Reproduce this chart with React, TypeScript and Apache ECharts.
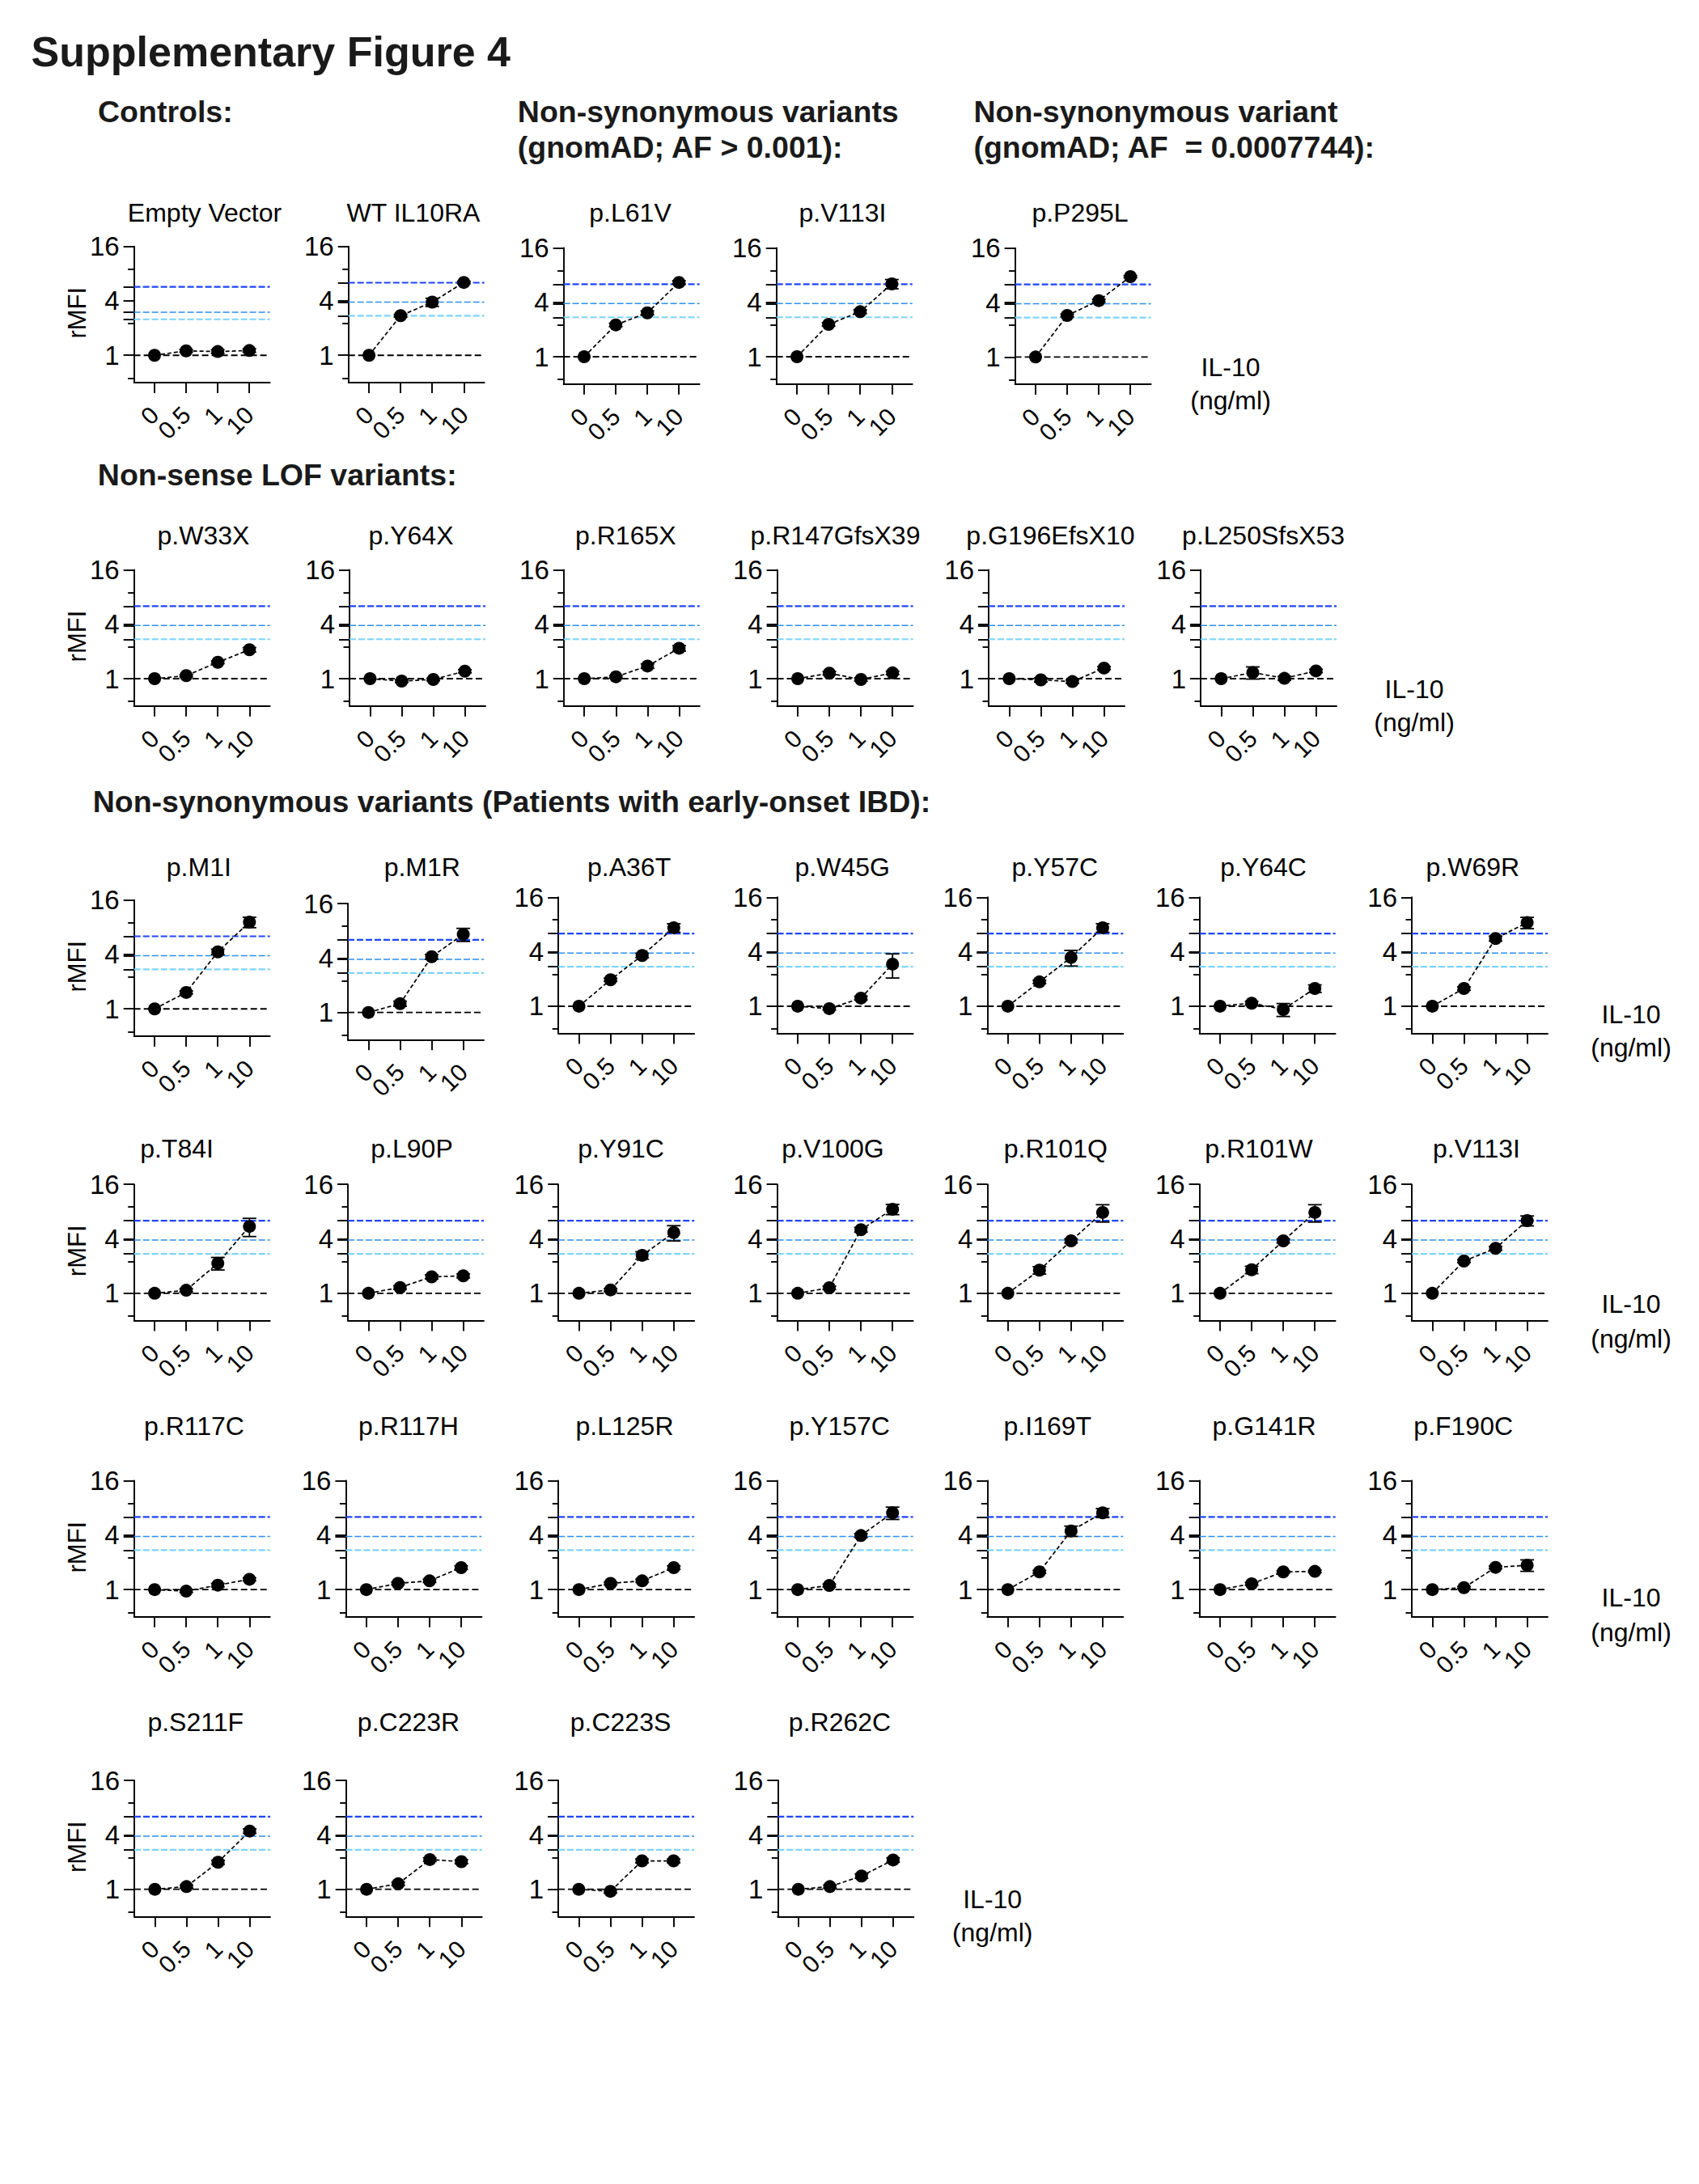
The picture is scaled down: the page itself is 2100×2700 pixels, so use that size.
import React, { useEffect, useRef } from 'react';
import * as echarts from 'echarts';

// ---------- data ----------
const DOSES = ['0', '0.5', '1', '10'];
const Y_LABELS = [1, 4, 16];
const MINOR_TICKS = [9, 2.25, 0.56];
const REF_LINES = [6.35, 3.87, 2.73]; // WT IL10RA at 10, 1, 0.5 ng/ml
const REF_LINES_EMPTY = [5.7, 3.0, 2.5];

const ROW1_NAMES = ['Empty Vector', 'WT IL10RA', 'p.L61V', 'p.V113I', 'p.P295L'];
const ROW1_MEANS = [
  [1, 1.12, 1.1, 1.13],
  [1, 2.74, 3.87, 6.39],
  [1, 2.25, 3.06, 6.63],
  [1, 2.28, 3.15, 6.39],
  [1, 2.88, 4.2, 7.73],
];
const ROW1_ERRORS = [
  [0, 0.04, 0.05, 0.05],
  [0, 0.1, 0.4, 0.2],
  [0, 0.1, 0.15, 0.3],
  [0, 0.1, 0.15, 0.75],
  [0, 0.1, 0.15, 0.2],
];

const ROW2_NAMES = ['p.W33X', 'p.Y64X', 'p.R165X', 'p.R147GfsX39', 'p.G196EfsX10', 'p.L250SfsX53'];
const ROW2_MEANS = [
  [1, 1.08, 1.52, 2.09],
  [1, 0.94, 0.98, 1.21],
  [1, 1.05, 1.38, 2.17],
  [1, 1.15, 0.98, 1.16],
  [1, 0.97, 0.93, 1.31],
  [1, 1.17, 1.01, 1.22],
];
const ROW2_ERRORS = [
  [0, 0.03, 0.05, 0.12],
  [0, 0.03, 0.03, 0.05],
  [0, 0.03, 0.08, 0.15],
  [0, 0.05, 0.04, 0.05],
  [0, 0.05, 0.04, 0.05],
  [0, 0.18, 0.05, 0.05],
];

const ROW3_NAMES = ['p.M1I', 'p.M1R', 'p.A36T', 'p.W45G', 'p.Y57C', 'p.Y64C', 'p.W69R'];
const ROW3_MEANS = [
  [1, 1.52, 4.27, 9.1],
  [1, 1.25, 4.13, 7.3],
  [1, 1.96, 3.64, 7.37],
  [1, 0.94, 1.23, 2.92],
  [1, 1.86, 3.46, 7.37],
  [1, 1.08, 0.92, 1.57],
  [1, 1.57, 5.6, 8.4],
];
const ROW3_ERRORS = [
  [0, 0.06, 0.3, 1.2],
  [0, 0.08, 0.25, 1.2],
  [0, 0.08, 0.2, 0.8],
  [0, 0.03, 0.06, 0.87],
  [0, 0.08, 0.68, 0.8],
  [0, 0.05, 0.15, 0.15],
  [0, 0.07, 0.35, 1.2],
];

const ROW4_NAMES = ['p.T84I', 'p.L90P', 'p.Y91C', 'p.V100G', 'p.R101Q', 'p.R101W', 'p.V113I'];
const ROW4_MEANS = [
  [1, 1.08, 2.15, 5.49],
  [1, 1.16, 1.52, 1.56],
  [1, 1.09, 2.63, 4.69],
  [1, 1.15, 5.05, 8.5],
  [1, 1.8, 3.8, 7.83],
  [1, 1.82, 3.8, 7.83],
  [1, 2.27, 3.14, 6.36],
];
const ROW4_ERRORS = [
  [0, 0.04, 0.34, 1.25],
  [0, 0.05, 0.08, 0.08],
  [0, 0.04, 0.25, 0.9],
  [0, 0.05, 0.3, 1.1],
  [0, 0.17, 0.2, 1.7],
  [0, 0.17, 0.2, 1.7],
  [0, 0.08, 0.15, 0.8],
];

const ROW5_NAMES = ['p.R117C', 'p.R117H', 'p.L125R', 'p.Y157C', 'p.I169T', 'p.G141R', 'p.F190C'];
const ROW5_MEANS = [
  [1, 0.96, 1.12, 1.3],
  [1, 1.17, 1.25, 1.75],
  [1, 1.17, 1.25, 1.75],
  [1, 1.11, 3.96, 7.06],
  [1, 1.57, 4.45, 7.06],
  [1, 1.16, 1.57, 1.59],
  [1, 1.05, 1.76, 1.86],
];
const ROW5_ERRORS = [
  [0, 0.03, 0.05, 0.05],
  [0, 0.04, 0.05, 0.08],
  [0, 0.04, 0.05, 0.08],
  [0, 0.04, 0.2, 1.1],
  [0, 0.06, 0.58, 0.8],
  [0, 0.04, 0.05, 0.05],
  [0, 0.03, 0.06, 0.27],
];

const ROW6_NAMES = ['p.S211F', 'p.C223R', 'p.C223S', 'p.R262C'];
const ROW6_MEANS = [
  [1, 1.07, 1.99, 4.4],
  [1, 1.15, 2.13, 2.02],
  [1, 0.95, 2.06, 2.06],
  [1, 1.07, 1.4, 2.11],
];
const ROW6_ERRORS = [
  [0, 0.04, 0.1, 0.25],
  [0, 0.05, 0.1, 0.1],
  [0, 0.04, 0.1, 0.1],
  [0, 0.04, 0.08, 0.12],
];

// ---------- layout ----------
const FONT = "'Liberation Sans', Arial, Helvetica, sans-serif";
const PLOT_W = 168;
const PLOT_H = 168.3;

const ROWS: any[] = [
  {
    names: ROW1_NAMES, means: ROW1_MEANS, errors: ROW1_ERRORS,
    xs: [165.6, 430.7, 696.6, 959.7, 1254.6],
    tops: [304.6, 304.6, 306.4, 306.4, 306.7],
    titleXs: [253, 511, 779, 1041.5, 1335], titleY: 263,
    il: [1521, 454, 495],
  },
  {
    names: ROW2_NAMES, means: ROW2_MEANS, errors: ROW2_ERRORS,
    xs: [165.7, 432, 696.8, 960.6, 1222, 1484],
    tops: [704.4, 704.4, 704.4, 704.4, 704.4, 704.4],
    titleXs: [251.4, 508, 773.3, 1032.5, 1298.4, 1561.6], titleY: 661.5,
    il: [1748, 852, 893],
  },
  {
    names: ROW3_NAMES, means: ROW3_MEANS, errors: ROW3_ERRORS,
    xs: [165.7, 430, 690.2, 960.6, 1220.3, 1482.6, 1745],
    tops: [1112.6, 1117, 1109.3, 1109.3, 1109.3, 1109.3, 1109.3],
    titleXs: [245.8, 521.8, 777.6, 1041.2, 1303.8, 1561.6, 1820.3], titleY: 1072,
    il: [2016, 1254, 1295],
  },
  {
    names: ROW4_NAMES, means: ROW4_MEANS, errors: ROW4_ERRORS,
    xs: [165.7, 430, 690.2, 960.6, 1220.3, 1482.6, 1745],
    tops: [1464.2, 1464.2, 1464.2, 1464.2, 1464.2, 1464.2, 1464.2],
    titleXs: [218.5, 509, 767.5, 1029.5, 1304.8, 1556, 1825], titleY: 1419.5,
    il: [2016, 1612, 1655],
  },
  {
    names: ROW5_NAMES, means: ROW5_MEANS, errors: ROW5_ERRORS,
    xs: [165.7, 427.4, 690.2, 960.6, 1220.3, 1482.6, 1745],
    tops: [1830.5, 1830.5, 1830.5, 1830.5, 1830.5, 1830.5, 1830.5],
    titleXs: [240, 505, 772, 1037.7, 1294.8, 1562.5, 1808.7], titleY: 1762.7,
    il: [2016, 1975, 2018],
  },
  {
    names: ROW6_NAMES, means: ROW6_MEANS, errors: ROW6_ERRORS,
    xs: [166, 427.7, 690, 961.3],
    tops: [2201, 2201, 2201, 2201],
    titleXs: [241.7, 505, 767, 1038], titleY: 2129,
    il: [1226.7, 2348, 2389],
  },
];

const HEADINGS: any[] = [
  { text: 'Supplementary Figure 4', x: 38.6, y: 64, size: 52 },
  { text: 'Controls:', x: 121, y: 137.5, size: 37.5 },
  { text: 'Non-synonymous variants', x: 639.8, y: 137.5, size: 37.5 },
  { text: '(gnomAD; AF > 0.001):', x: 639.8, y: 182, size: 37.5 },
  { text: 'Non-synonymous variant', x: 1203.4, y: 137.5, size: 37.5 },
  { text: '(gnomAD; AF \u00a0= 0.0007744):', x: 1203.4, y: 181.5, size: 37.5 },
  { text: 'Non-sense LOF variants:', x: 120.8, y: 587, size: 37.5 },
  { text: 'Non-synonymous variants (Patients with early-onset IBD):', x: 114.7, y: 990.6, size: 37.5 },
];

const REF_STYLES = [
  { color: '#1f45ff', width: 2.2, dash: [8, 3] },
  { color: '#2b8ff0', width: 1.5, dash: [8, 3] },
  { color: '#7cd4fa', width: 2.2, dash: [8, 3] },
  { color: '#000000', width: 1.9, dash: [8, 4] },
];

// x labels are split over two stacked axes so that neighbouring rotated labels never compete
const X_LABEL_SETS = [[0, 2], [1, 3]];

function buildOption() {
  const grid: any[] = [];
  const xAxis: any[] = [];
  const yAxis: any[] = [];
  const series: any[] = [];
  const elements: any[] = [];
  const axisStyle = { color: '#000', width: 1.9 };

  HEADINGS.forEach((h) => {
    elements.push({
      type: 'text', x: h.x, y: h.y, silent: true,
      style: { text: h.text, fontSize: h.size, fontWeight: 'bold', fontFamily: FONT, fill: '#1a1a1a', align: 'left', verticalAlign: 'middle' },
    });
  });

  let gi = 0;
  ROWS.forEach((row, ri) => {
    row.names.forEach((name: string, ci: number) => {
      const left = row.xs[ci];
      const top = row.tops[ci];
      const refs = ri === 0 && ci === 0 ? REF_LINES_EMPTY : REF_LINES;
      grid.push({ left, top, width: PLOT_W, height: PLOT_H, containLabel: false, outerBoundsMode: 'none' });
      X_LABEL_SETS.forEach((labelSet, k) => {
        xAxis.push({
          gridIndex: gi, type: 'value', min: -0.65, max: 3.65, position: 'bottom', offset: 0,
          axisLine: { show: k === 0, onZero: false, lineStyle: axisStyle },
          axisTick: { show: k === 0, customValues: [0, 1, 2, 3], length: 13, lineStyle: axisStyle },
          axisLabel: {
            customValues: labelSet, formatter: (v: number) => DOSES[Math.round(v)],
            rotate: 45, fontSize: 30, fontFamily: FONT, color: '#000', margin: 35,
            showMinLabel: true, showMaxLabel: true, hideOverlap: false,
          },
          splitLine: { show: false },
        });
      });
      yAxis.push({
        gridIndex: gi, type: 'log', logBase: 2, min: 0.5, max: 16, position: 'left', offset: 0,
        axisLine: { show: true, onZero: false, lineStyle: axisStyle },
        axisTick: { show: true, customValues: [...Y_LABELS, ...refs], length: 13, lineStyle: axisStyle },
        axisLabel: {
          customValues: Y_LABELS, fontSize: 33, fontFamily: FONT, color: '#000', margin: 18,
          showMinLabel: true, showMaxLabel: true, hideOverlap: false,
        },
        splitLine: { show: false },
      });
      yAxis.push({
        gridIndex: gi, type: 'log', logBase: 2, min: 0.5, max: 16, position: 'left', offset: 0,
        axisLine: { show: false, onZero: false },
        axisTick: { show: true, customValues: MINOR_TICKS, length: 7.5, lineStyle: axisStyle },
        axisLabel: { show: false },
        splitLine: { show: false },
      });
      const xi = gi * 2;
      const yi = gi * 2;
      // reference lines
      series.push({
        type: 'custom', xAxisIndex: xi, yAxisIndex: yi, z: 1, silent: true,
        data: [[0, refs[0]], [1, refs[1]], [2, refs[2]], [3, 1]],
        encode: { x: 0, y: 1 },
        renderItem: (params: any, api: any) => {
          const k = api.value(0);
          const v = api.value(1);
          const cs = params.coordSys;
          const y = api.coord([0, v])[1];
          const st = REF_STYLES[k];
          return {
            type: 'line',
            shape: { x1: cs.x, y1: y, x2: cs.x + cs.width, y2: y },
            style: { stroke: st.color, lineWidth: st.width, lineDash: st.dash },
          };
        },
      });
      // error bars
      const means: number[] = row.means[ci];
      const errs: number[] = row.errors[ci];
      const errData = means.map((m, j) => [j, m - errs[j], m + errs[j]]).filter((d, j) => errs[j] > 0);
      series.push({
        type: 'custom', xAxisIndex: xi, yAxisIndex: yi, z: 2, silent: true,
        data: errData, encode: { x: 0, y: [1, 2] },
        renderItem: (params: any, api: any) => {
          const x = api.value(0);
          const lo = api.value(1);
          const hi = api.value(2);
          const pHi = api.coord([x, hi]);
          const pLo = api.coord([x, lo]);
          const hw = 8.5;
          const st = { stroke: '#000', lineWidth: 1.8 };
          return {
            type: 'group',
            children: [
              { type: 'line', shape: { x1: pHi[0], y1: pHi[1], x2: pLo[0], y2: pLo[1] }, style: st },
              { type: 'line', shape: { x1: pHi[0] - hw, y1: pHi[1], x2: pHi[0] + hw, y2: pHi[1] }, style: st },
              { type: 'line', shape: { x1: pLo[0] - hw, y1: pLo[1], x2: pLo[0] + hw, y2: pLo[1] }, style: st },
            ],
          };
        },
      });
      // means
      series.push({
        type: 'line', xAxisIndex: xi, yAxisIndex: yi, z: 3, silent: true,
        data: means.map((m, j) => [j, m]),
        symbol: 'circle', symbolSize: 16, showSymbol: true,
        itemStyle: { color: '#000' },
        lineStyle: { color: '#000', width: 1.7, type: [5, 3] },
      });
      // panel title
      elements.push({
        type: 'text', x: row.titleXs[ci], y: row.titleY, silent: true,
        style: { text: name, fontSize: 32, fontFamily: FONT, fill: '#000', align: 'center', verticalAlign: 'middle' },
      });
      gi++;
    });
    // rMFI label
    const top0 = row.tops[0];
    elements.push({
      type: 'text', x: 95.5, y: top0 + PLOT_H / 2 - 2, rotation: Math.PI / 2, silent: true,
      style: { text: 'rMFI', fontSize: 31, fontFamily: FONT, fill: '#000', align: 'center', verticalAlign: 'middle' },
    });
    // IL-10 label
    elements.push({
      type: 'text', x: row.il[0], y: row.il[1], silent: true,
      style: { text: 'IL-10', fontSize: 32, fontFamily: FONT, fill: '#000', align: 'center', verticalAlign: 'middle' },
    });
    elements.push({
      type: 'text', x: row.il[0], y: row.il[2], silent: true,
      style: { text: '(ng/ml)', fontSize: 32, fontFamily: FONT, fill: '#000', align: 'center', verticalAlign: 'middle' },
    });
  });

  return {
    animation: false,
    backgroundColor: '#ffffff',
    textStyle: { fontFamily: FONT },
    grid, xAxis, yAxis, series,
    graphic: { elements },
  };
}

export default function App() {
  const ref = useRef<HTMLDivElement>(null);
  useEffect(() => {
    document.body.style.margin = '0';
    const chart = echarts.init(ref.current as HTMLDivElement, null, { renderer: 'svg', width: 2100, height: 2700 });
    chart.setOption(buildOption() as any);
    return () => chart.dispose();
  }, []);
  return (
    <div
      ref={ref}
      style={{ position: 'absolute', left: 0, top: 0, width: 2100, height: 2700, background: '#fff' }}
    />
  );
}
